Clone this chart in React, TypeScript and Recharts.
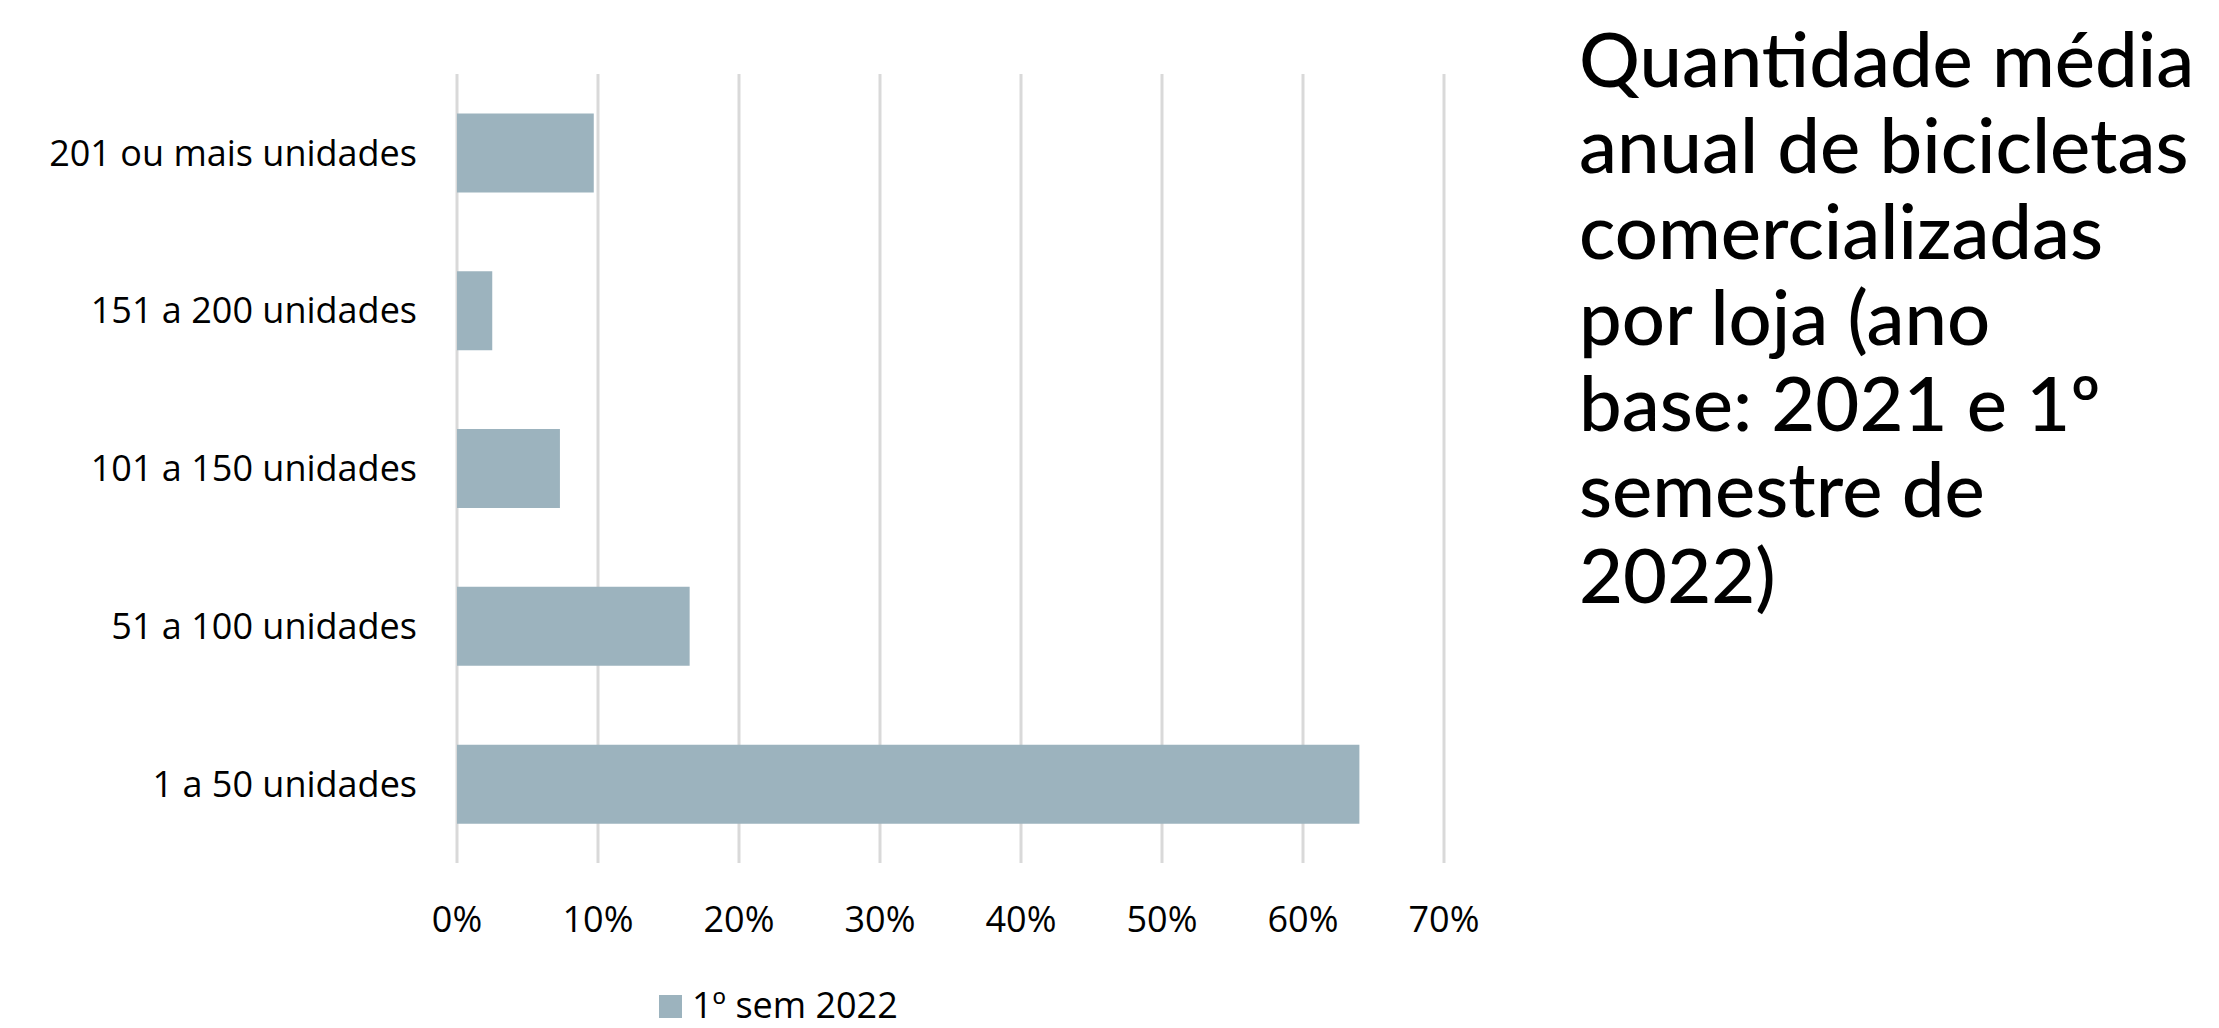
// Distribuição das lojas por quantidade média anual de bicicletas vendidas
import { BarChart, Bar, XAxis, YAxis, CartesianGrid } from 'recharts';

const faixas = [
  '201 ou mais unidades',
  '151 a 200 unidades',
  '101 a 150 unidades',
  '51 a 100 unidades',
  '1 a 50 unidades',
];
const sem2022 = [9.7, 2.5, 7.3, 16.5, 64.0];
const serieNome = '1º sem 2022';
const ticksPct = [0, 10, 20, 30, 40, 50, 60, 70];

const tituloLinhas = [
  'Quantidade média',
  'anual de bicicletas',
  'comercializadas',
  'por loja (ano',
  'base: 2021 e 1º',
  'semestre de',
  '2022)',
];

const COR_BARRA = '#9cb3be';
const FONTE = "'Open Sans', sans-serif";

const data = faixas.map((faixa, i) => ({ faixa, valor: sem2022[i] }));

export default function App() {
  return (
    <div
      style={{
        position: 'absolute',
        left: 0,
        top: 0,
        width: 2219,
        height: 1028,
        background: '#fff',
        overflow: 'hidden',
      }}
    >
      <BarChart
        width={1560}
        height={1028}
        data={data}
        layout="vertical"
        margin={{ top: 74, right: 116, bottom: 105, left: 0 }}
        barCategoryGap="25%"
      >
        <CartesianGrid horizontal={false} stroke="#d9d9d9" strokeWidth={3} />
        <XAxis
          type="number"
          domain={[0, 70]}
          ticks={ticksPct}
          tickFormatter={(v: number) => `${v}%`}
          axisLine={false}
          tickLine={false}
          tickMargin={37}
          height={60}
          tick={{ fill: '#000', fontSize: 36, fontFamily: FONTE }}
        />
        <YAxis
          type="category"
          dataKey="faixa"
          width={457}
          axisLine={false}
          tickLine={false}
          tickMargin={34}
          tick={{ fill: '#000', fontSize: 36, fontFamily: FONTE }}
        />
        <Bar dataKey="valor" name={serieNome} fill={COR_BARRA} isAnimationActive={false} />
      </BarChart>

      <svg style={{ position: 'absolute', left: 0, top: 0 }} width={2219} height={1028}>
        {/* legenda */}
        <rect x={659} y={995} width={23} height={23} fill={COR_BARRA} />
        <text x={692} y={1018} fontSize={36} fontFamily={FONTE} fill="#000">
          {serieNome}
        </text>
        {/* título */}
        <text fontSize={76} fontFamily="Lato, sans-serif" fontWeight={500} fill="#000">
          {tituloLinhas.map((linha, i) => (
            <tspan key={i} x={1579} y={87 + i * 86}>
              {linha}
            </tspan>
          ))}
        </text>
      </svg>
    </div>
  );
}
